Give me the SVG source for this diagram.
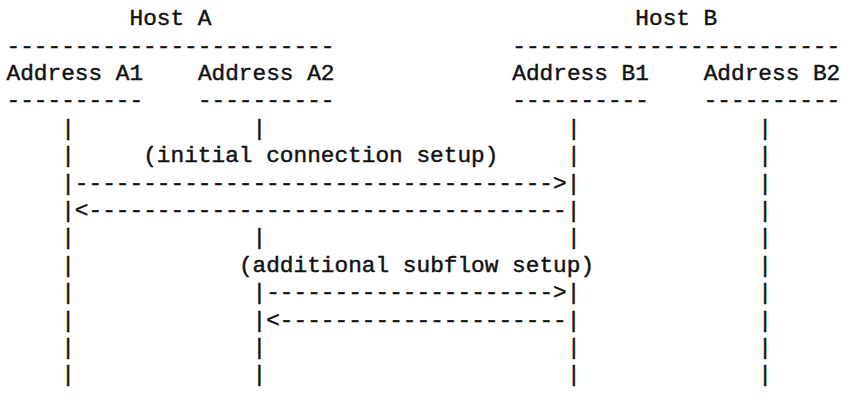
<svg xmlns="http://www.w3.org/2000/svg" width="852" height="404" viewBox="0 0 852 404">
<style>
text{font-family:"Liberation Mono","Courier New",monospace;font-size:22.78px;fill:#111;stroke:#111;stroke-width:0.45px;white-space:pre}
</style>
<rect width="852" height="404" fill="#fff"/>
<g id="hostA">
<text x="129.53" y="25.2">Host A</text>
<text x="6.5" y="52.6">------------------------</text>
</g>
<g id="hostB">
<text x="635.32" y="25.2">Host B</text>
<text x="512.29" y="52.6">------------------------</text>
</g>
<g id="addrA1">
<text x="6.5" y="80">Address A1</text>
<text x="6.5" y="107.4">----------</text>
<text x="61.18" y="134.8">|</text><text x="61.18" y="162.2">|</text><text x="61.18" y="244.4">|</text><text x="61.18" y="271.8">|</text><text x="61.18" y="299.2">|</text><text x="61.18" y="326.6">|</text><text x="61.18" y="354">|</text><text x="61.18" y="381.4">|</text>
</g>
<g id="addrA2">
<text x="197.88" y="80">Address A2</text>
<text x="197.88" y="107.4">----------</text>
<text x="252.56" y="134.8">|</text><text x="252.56" y="244.4">|</text><text x="252.56" y="354">|</text><text x="252.56" y="381.4">|</text>
</g>
<g id="addrB1">
<text x="512.29" y="80">Address B1</text>
<text x="512.29" y="107.4">----------</text>
<text x="566.97" y="134.8">|</text><text x="566.97" y="162.2">|</text><text x="566.97" y="244.4">|</text><text x="566.97" y="354">|</text><text x="566.97" y="381.4">|</text>
</g>
<g id="addrB2">
<text x="703.67" y="80">Address B2</text>
<text x="703.67" y="107.4">----------</text>
<text x="758.35" y="134.8">|</text><text x="758.35" y="162.2">|</text><text x="758.35" y="189.6">|</text><text x="758.35" y="217">|</text><text x="758.35" y="244.4">|</text><text x="758.35" y="271.8">|</text><text x="758.35" y="299.2">|</text><text x="758.35" y="326.6">|</text><text x="758.35" y="354">|</text><text x="758.35" y="381.4">|</text>
</g>
<g id="connectors">
<text x="143.2" y="162.2">(initial connection setup)</text>
<text x="61.18" y="189.6">|----------------------------------->|</text>
<text x="61.18" y="217">|&lt;-----------------------------------|</text>
<text x="238.89" y="271.8">(additional subflow setup)</text>
<text x="252.56" y="299.2">|--------------------->|</text>
<text x="252.56" y="326.6">|&lt;---------------------|</text>
</g>
</svg>
